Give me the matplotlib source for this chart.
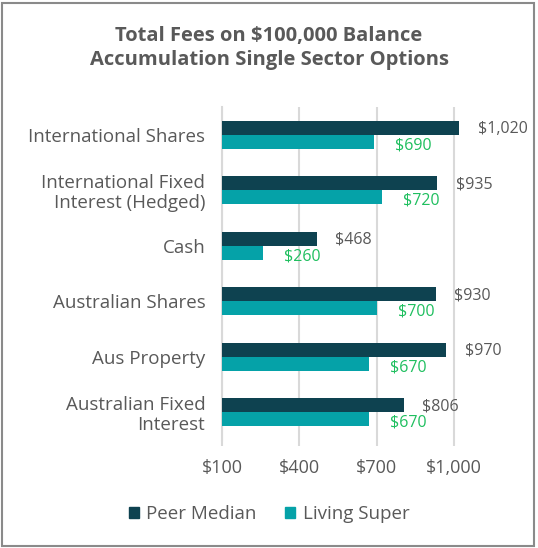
import matplotlib
matplotlib.use("Agg")
import matplotlib.pyplot as plt
from matplotlib.patches import Rectangle, Patch
import numpy as np

categories = ["International Shares", "International Fixed\nInterest (Hedged)", "Cash",
              "Australian Shares", "Aus Property", "Australian Fixed\nInterest"]
peer_median = [1020, 935, 468, 930, 970, 806]
living_super = [690, 720, 260, 700, 670, 670]
xticks = [100, 400, 700, 1000]
xtick_labels = ["$100", "$400", "$700", "$1,000"]

DARK = "#0e4250"
TEAL = "#05a2a8"
GREEN = "#1fbf5f"
GRAY = "#595959"

plt.rcParams['font.family'] = ['Open Sans', 'DejaVu Sans']

W, H = 538, 548
fig = plt.figure(figsize=(W / 100, H / 100), dpi=100)
ax = fig.add_axes([222 / W, 1 - 440 / H, (505 - 222) / W, (440 - 107) / H])

y = np.arange(len(categories))
h = 0.25
base = 100
ax.barh(y - h / 2, np.array(peer_median) - base, left=base, height=h, color=DARK, zorder=3)
ax.barh(y + h / 2, np.array(living_super) - base, left=base, height=h, color=TEAL, zorder=3)

for i, (p, l) in enumerate(zip(peer_median, living_super)):
    ax.text(p + 72, i - h / 2 + 0.02, f"${p:,}", va="center", ha="left", fontsize=11.5, color=GRAY)
    ax.text(l + 82, i + h / 2 + 0.06, f"${l:,}", va="center", ha="left", fontsize=11.5, color=GREEN)

ax.set_xlim(100, 100 + (505 - 222) / (77.3 / 300))
ax.set_ylim(len(categories) - 0.5, -0.5)
ax.set_xticks(xticks)
ax.set_xticklabels(xtick_labels, fontsize=13, color=GRAY)
ax.set_yticks(y)
ax.set_yticklabels(categories, fontsize=13.5, color=GRAY, linespacing=1.15)
ax.tick_params(axis="y", length=0, pad=12)
ax.tick_params(axis="x", length=4, color="#d9d9d9", width=1.5, pad=10)
ax.grid(axis="x", color="#d9d9d9", linewidth=1.5, zorder=0)
for s in ["top", "right", "bottom"]:
    ax.spines[s].set_visible(False)
ax.spines["left"].set_color("#d9d9d9")
ax.spines["left"].set_linewidth(1.5)

fig.text(0.5, 1 - 48 / H, "Total Fees on $100,000 Balance\nAccumulation Single Sector Options",
         ha="center", va="center", fontsize=14.5, fontweight="bold", color=GRAY, linespacing=1.25)

handles = [Patch(color=DARK), Patch(color=TEAL)]
fig.legend(handles, ["Peer Median", "Living Super"], loc="center", bbox_to_anchor=(0.5, 1 - 514 / H),
           ncol=2, frameon=False, fontsize=13.5, handlelength=0.55, handleheight=0.55,
           handletextpad=0.4, columnspacing=1.5, labelcolor=GRAY)

fig.patches.append(Rectangle((2 / W, 1 - 546 / H), 532 / W, 543 / H, transform=fig.transFigure,
                             fill=False, edgecolor="#8a8a8a", linewidth=1.5))

fig.savefig("out.png", dpi=100)
